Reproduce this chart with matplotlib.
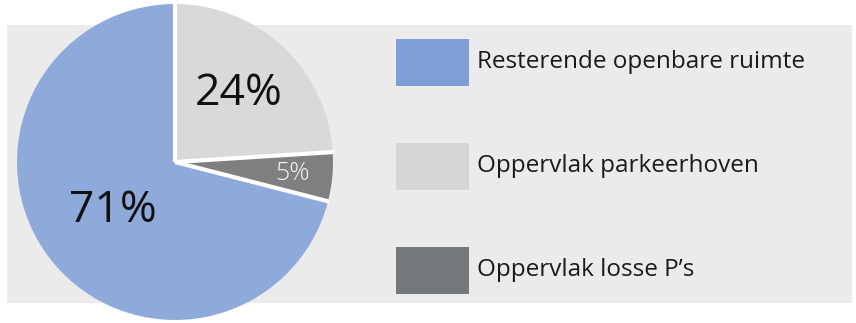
import numpy as np
import matplotlib
matplotlib.use("Agg")
import matplotlib.pyplot as plt
from matplotlib.patches import Rectangle

# pie data, drawn clockwise from 12 o'clock
pie_values = [24, 5, 71]
pie_colors = ["#d9d9d9", "#7f7f7f", "#8eaadb"]
pie_text_colors = ["#111111", "#f2f2f2", "#111111"]
pie_text_sizes = [32, 18, 32]
pie_text_weights = ["normal", "light", "normal"]
pie_text_dist = [0.59, 0.75, 0.50]

# legend entries (top to bottom)
legend_labels = ["Resterende openbare ruimte", "Oppervlak parkeerhoven", "Oppervlak losse P\u2019s"]
legend_colors = ["#7f9fd9", "#d6d6d6", "#75787b"]

plt.rcParams["font.family"] = ["Open Sans", "DejaVu Sans"]

W, H = 856, 323
fig = plt.figure(figsize=(W / 100, H / 100), dpi=100)
ax = fig.add_axes([0, 0, 1, 1])

# grey panel behind everything
ax.add_patch(Rectangle((7, H - 303), 845, 278, facecolor="#ebebeb", edgecolor="none", zorder=0))

cx, cy, r = 175, H - 162, 158
wedges, _ = ax.pie(pie_values, colors=pie_colors, startangle=90, counterclock=False,
                   center=(cx, cy), radius=r, frame=True,
                   wedgeprops=dict(edgecolor="none", linewidth=0))
ax.set_xlim(0, W)
ax.set_ylim(0, H)
ax.set_aspect("equal")
ax.axis("off")

# white separators only along the radial edges
for w in wedges:
    a = np.deg2rad(w.theta1)
    ax.plot([cx, cx + r * 1.01 * np.cos(a)], [cy, cy + r * 1.01 * np.sin(a)],
            color="white", lw=3, solid_capstyle="butt", zorder=3)

for w, v, tc, fs, fw, d in zip(wedges, pie_values, pie_text_colors, pie_text_sizes,
                               pie_text_weights, pie_text_dist):
    ang = np.deg2rad((w.theta1 + w.theta2) / 2)
    ax.text(cx + d * r * np.cos(ang), cy + d * r * np.sin(ang), f"{v}%",
            ha="center", va="center", fontsize=fs, color=tc, fontweight=fw, zorder=4)

# legend, drawn by hand to match the spacing
for i, (lab, col) in enumerate(zip(legend_labels, legend_colors)):
    top = 39 + i * 104
    ax.add_patch(Rectangle((396, H - top - 47), 73, 47, facecolor=col, edgecolor="none"))
    ax.text(477, H - top - 23, lab, ha="left", va="center", fontsize=17.5, color="#1a1a1a")

fig.savefig("out.png", dpi=100, facecolor="white")
